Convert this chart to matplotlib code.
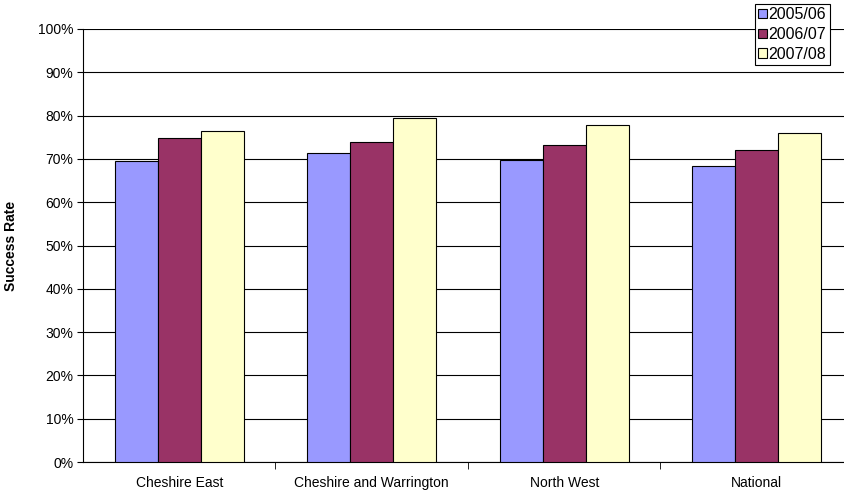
import numpy as np
import matplotlib.pyplot as plt
from matplotlib.patches import Patch

plt.rcParams['font.family'] = ['Liberation Sans', 'DejaVu Sans']

categories = ["Cheshire East", "Cheshire and Warrington", "North West", "National"]
years = ["2005/06", "2006/07", "2007/08"]
rate_0506 = [69.5, 71.4, 69.8, 68.4]
rate_0607 = [74.8, 73.9, 73.3, 72.1]
rate_0708 = [76.4, 79.5, 77.9, 76.0]
colors = ["#9999FF", "#993366", "#FFFFCC"]

fig = plt.figure(figsize=(8.45, 4.93), dpi=100)
ax = fig.add_axes([83/845, 1 - 462/493, 770/845, 433/493])

x = np.arange(len(categories))
w = 0.223
for i, vals in enumerate([rate_0506, rate_0607, rate_0708]):
	ax.bar(x + (i - 1) * w, vals, width=w, color=colors[i], edgecolor="black", linewidth=0.8, zorder=3)

ax.set_xlim(-0.5, len(categories) - 0.5)
ax.set_ylim(0, 100)
ax.set_yticks(np.arange(0, 101, 10))
ax.set_yticklabels(["%d%%" % v for v in range(0, 101, 10)], fontsize=10)
ax.yaxis.grid(True, color="black", linewidth=0.8, zorder=0)
ax.set_xticks(x)
ax.set_xticklabels(categories, fontsize=10)
ax.tick_params(axis="x", length=0, pad=10)
ax.set_xticks(np.arange(0.5, len(categories) - 0.5, 1), minor=True)
ax.tick_params(axis="x", which="minor", length=5, direction="out")
ax.tick_params(axis="y", length=4, direction="out", pad=3)
ax.spines["top"].set_visible(False)
ax.spines["right"].set_visible(False)
ax.set_ylabel("Success Rate", fontsize=10, fontweight="bold", labelpad=14)

handles = [Patch(facecolor=c, edgecolor="black", linewidth=0.8) for c in colors]
leg = fig.legend(handles, years, loc="upper left", bbox_to_anchor=(755/845, 1 - 4/493),
	fontsize=11.5, frameon=True, fancybox=False, edgecolor="black", framealpha=1,
	handlelength=0.55, handleheight=0.55, handletextpad=0.1, borderpad=0.2,
	labelspacing=0.3, borderaxespad=0)
leg.get_frame().set_linewidth(0.8)

fig.savefig("out.png", dpi=100)
